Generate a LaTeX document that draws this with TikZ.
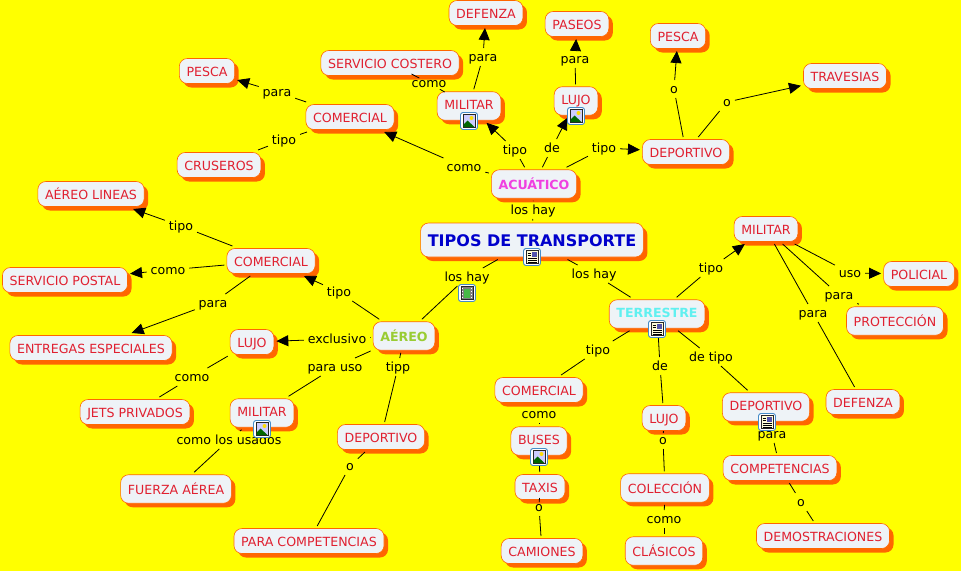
\documentclass[tikz,border=0pt]{standalone}
\usepackage{fontspec}
\setmainfont{DejaVu Sans}
\usetikzlibrary{shapes, arrows.meta, positioning, shadows}
\definecolor{mapyellow}{RGB}{255, 255, 0}
\definecolor{boxfill}{RGB}{238, 243, 247}
\definecolor{boxedge}{RGB}{255, 102, 0}
\definecolor{cptred}{RGB}{224, 32, 48}
\definecolor{acuapink}{RGB}{240, 64, 224}
\definecolor{terrcyan}{RGB}{96, 240, 240}
\definecolor{aeregreen}{RGB}{153, 204, 51}
\definecolor{rootblue}{RGB}{0, 0, 204}
\definecolor{iconblue}{RGB}{70, 140, 200}
\tikzset{
  iconframe/.pic={
    \draw[iconblue, fill=white, rounded corners=2.5pt, line width=0.9pt] (-8.5,-8.5) rectangle (8.5,8.5);
    \draw[black!85, line width=0.9pt] (-6,-6.5) rectangle (6,6.5);
  },
  imgicon/.pic={
    \pic {iconframe};
    \fill[blue!20] (-5.5,-6) rectangle (5.5,6);
    \fill[yellow!80!orange] (2.5,-3) circle (2);
    \fill[green!40!black] (-5.5,6) -- (-5.5,3.5) -- (-1.5,-0.5) -- (5.5,6) -- cycle;
  },
  docicon/.pic={
    \pic {iconframe};
    \fill[yellow!15] (-5.5,-6) rectangle (5.5,6);
    \fill[blue!35!gray] (-0.5,-5) rectangle (5,0);
    \foreach \yy in {-4,-1.5} \draw[black, line width=0.7pt] (-4.5,\yy) -- (-1.5,\yy);
    \foreach \yy in {1.2,3.2,5} \draw[black, line width=0.7pt] (-4.5,\yy) -- (4.5,\yy);
  },
  filmicon/.pic={
    \pic {iconframe};
    \fill[black!50] (-5.5,-6) rectangle (5.5,6);
    \fill[green!45!gray] (-3,-4.5) rectangle (3,4.5);
    \foreach \yy in {-4.5,-1.5,1.5,4.5} {
      \fill[white] (-5,\yy-0.7) rectangle (-3.8,\yy+0.7);
      \fill[white] (3.8,\yy-0.7) rectangle (5,\yy+0.7);
    }
  }
}
\begin{document}
\begin{tikzpicture}[
  x=1pt, y=-1pt,
  cptbox/.style={draw=boxedge, fill=boxfill, rounded corners=8pt, line width=0.6pt, minimum height=25pt, text height=10.5pt, text depth=0pt, inner xsep=7.2pt, inner ysep=2pt, outer sep=2.5pt, align=center, text=cptred, font=\fontsize{12.6}{14}\selectfont, drop shadow={shadow xshift=4pt, shadow yshift=-4pt, fill=boxedge, opacity=1}},
  tallbox/.style={cptbox, minimum height=28.5pt},
  iconbox/.style={tallbox, text height=7pt},
  linkbox/.style={inner xsep=2.5pt, inner ysep=1pt, outer sep=1.5pt, text height=10.5pt, text depth=2.5pt, text=black, font=\fontsize{12.6}{14}\selectfont},
  lnk/.style={draw=black, line width=0.8pt},
  arr/.style={lnk, -{Triangle[length=12pt,width=11pt]}}
]
  \useasboundingbox[fill=mapyellow] (0,0) rectangle (961,571);

  % Root and the three branches
  \node[tallbox, minimum height=34pt, text height=13pt, font=\fontsize{16}{18}\selectfont\bfseries, text=rootblue] (tipos) at (532,240) {TIPOS DE TRANSPORTE};
  \node[tallbox, font=\fontsize{12.6}{14}\selectfont\bfseries, text=acuapink] (acuatico) at (534,184) {ACUÁTICO};
  \node[iconbox, font=\fontsize{12.6}{14}\selectfont\bfseries, text=terrcyan] (terrestre) at (657,314) {TERRESTRE};
  \node[tallbox, font=\fontsize{12.6}{14}\selectfont\bfseries, text=aeregreen] (aereo) at (404,336) {AÉREO};

  % Water
  \node[cptbox] (defenzaAcu) at (486,13) {DEFENZA};
  \node[cptbox] (paseos) at (577,24) {PASEOS};
  \node[cptbox] (pescaDep) at (678,36) {PESCA};
  \node[cptbox] (travesias) at (845,76) {TRAVESIAS};
  \node[cptbox] (costero) at (390,63) {SERVICIO COSTERO};
  \node[iconbox] (militarAcu) at (469,106) {MILITAR};
  \node[iconbox] (lujoAcu) at (576,101) {LUJO};
  \node[cptbox] (deportivoAcu) at (686,152) {DEPORTIVO};
  \node[cptbox] (pescaCom) at (207,71) {PESCA};
  \node[cptbox] (comercialAcu) at (350,117) {COMERCIAL};
  \node[cptbox] (cruseros) at (219,165) {CRUSEROS};

  % Air
  \node[cptbox] (lineas) at (91,194) {AÉREO LINEAS};
  \node[cptbox] (comercialAer) at (271,261) {COMERCIAL};
  \node[cptbox] (postal) at (65,280) {SERVICIO POSTAL};
  \node[cptbox] (entregas) at (91,348) {ENTREGAS ESPECIALES};
  \node[cptbox] (lujoAer) at (252,342) {LUJO};
  \node[cptbox] (jets) at (135,412) {JETS PRIVADOS};
  \node[iconbox] (militarAer) at (262,413) {MILITAR};
  \node[tallbox] (fuerza) at (176,489) {FUERZA AÉREA};
  \node[cptbox] (deportivoAer) at (381,437) {DEPORTIVO};
  \node[cptbox] (paracomp) at (309,541) {PARA COMPETENCIAS};

  % Land
  \node[cptbox] (comercialTer) at (539,390) {COMERCIAL};
  \node[iconbox] (buses) at (539,441) {BUSES};
  \node[cptbox] (taxis) at (540,487) {TAXIS};
  \node[cptbox] (camiones) at (542,551) {CAMIONES};
  \node[cptbox] (lujoTer) at (664,418) {LUJO};
  \node[tallbox] (coleccion) at (665,488) {COLECCIÓN};
  \node[tallbox] (clasicos) at (664,551) {CLÁSICOS};
  \node[iconbox] (deportivoTer) at (766,407) {DEPORTIVO};
  \node[cptbox] (competencias) at (780,468) {COMPETENCIAS};
  \node[cptbox] (demostraciones) at (823,536) {DEMOSTRACIONES};
  \node[cptbox] (militarTer) at (766,229) {MILITAR};
  \node[cptbox] (policial) at (919,274) {POLICIAL};
  \node[tallbox] (proteccion) at (895,321) {PROTECCIÓN};
  \node[cptbox] (defenzaTer) at (863,402) {DEFENZA};

  % Link phrases
  \node[linkbox] (hayUp) at (533,210) {los hay};
  \node[linkbox] (hayLeft) at (467,277) {los hay};
  \node[linkbox] (hayRight) at (594,274) {los hay};
  \node[linkbox] (comoAcu) at (464,167) {como};
  \node[linkbox] (tipoMil) at (515,150) {tipo};
  \node[linkbox] (deLujo) at (552,148) {de};
  \node[linkbox] (tipoDep) at (604,148) {tipo};
  \node[linkbox] (paraDef) at (483,57) {para};
  \node[linkbox] (comoCost) at (429,83) {como};
  \node[linkbox] (paraPas) at (575,59) {para};
  \node[linkbox] (oPesca) at (674,89) {o};
  \node[linkbox] (oTrav) at (727,102) {o};
  \node[linkbox] (paraPes) at (277,92) {para};
  \node[linkbox] (tipoCru) at (284,140) {tipo};
  \node[linkbox] (tipoLin) at (181,226) {tipo};
  \node[linkbox] (comoPos) at (168,270) {como};
  \node[linkbox] (paraEnt) at (213,303) {para};
  \node[linkbox] (tipoCom) at (339,292) {tipo};
  \node[linkbox] (exclusivo) at (337,339) {exclusivo};
  \node[linkbox] (parauso) at (335,367) {para uso};
  \node[linkbox] (tipp) at (398,367) {tipp};
  \node[linkbox] (comoJets) at (192,377) {como};
  \node[linkbox] (usados) at (229,440) {como los usados};
  \node[linkbox] (oComp) at (350,466) {o};
  \node[linkbox] (tipoTer) at (598,350) {tipo};
  \node[linkbox] (deTer) at (660,366) {de};
  \node[linkbox] (detipo) at (711,357) {de tipo};
  \node[linkbox] (tipoMilT) at (711,268) {tipo};
  \node[linkbox] (comoBus) at (539,414) {como};
  \node[linkbox] (oCol) at (663,440) {o};
  \node[linkbox] (comoCla) at (664,519) {como};
  \node[linkbox] (paraCom) at (772,434) {para};
  \node[linkbox] (oDem) at (801,502) {o};
  \node[linkbox] (oCam) at (539,507) {o};
  \node[linkbox] (uso) at (850,273) {uso};
  \node[linkbox] (paraPro) at (839,295) {para};
  \node[linkbox] (paraDefT) at (813,313) {para};

  % Connectors
  \draw[lnk] (tipos) -- (hayUp);
  \draw[lnk] (hayUp) -- (acuatico);
  \draw[lnk] (tipos) -- (hayLeft);
  \draw[lnk] (hayLeft) -- (aereo);
  \draw[lnk] (tipos) -- (hayRight);
  \draw[lnk] (hayRight) -- (terrestre);

  \draw[lnk] (acuatico) -- (comoAcu);
  \draw[arr] (comoAcu) -- (comercialAcu);
  \draw[lnk] (acuatico) -- (tipoMil);
  \draw[arr] (tipoMil) -- (militarAcu);
  \draw[lnk] (acuatico) -- (deLujo);
  \draw[arr] (deLujo) -- (lujoAcu);
  \draw[lnk] (acuatico) -- (tipoDep);
  \draw[arr] (tipoDep) -- (deportivoAcu);
  \draw[lnk] (militarAcu) -- (paraDef);
  \draw[arr] (paraDef) -- (defenzaAcu);
  \draw[lnk] (militarAcu) -- (comoCost);
  \draw[lnk] (comoCost) -- (costero);
  \draw[lnk] (lujoAcu) -- (paraPas);
  \draw[arr] (paraPas) -- (paseos);
  \draw[lnk] (deportivoAcu) -- (oPesca);
  \draw[arr] (oPesca) -- (pescaDep);
  \draw[lnk] (deportivoAcu) -- (oTrav);
  \draw[arr] (oTrav) -- (travesias);
  \draw[lnk] (comercialAcu) -- (paraPes);
  \draw[arr] (paraPes) -- (pescaCom);
  \draw[lnk] (comercialAcu) -- (tipoCru);
  \draw[lnk] (tipoCru) -- (cruseros);

  \draw[lnk] (aereo) -- (tipoCom);
  \draw[arr] (tipoCom) -- (comercialAer);
  \draw[lnk] (aereo) -- (exclusivo);
  \draw[arr] (exclusivo) -- (lujoAer);
  \draw[lnk] (aereo) -- (parauso);
  \draw[lnk] (parauso) -- (militarAer);
  \draw[lnk] (aereo) -- (tipp);
  \draw[lnk] (tipp) -- (deportivoAer);
  \draw[lnk] (comercialAer) -- (tipoLin);
  \draw[arr] (tipoLin) -- (lineas);
  \draw[lnk] (comercialAer) -- (comoPos);
  \draw[arr] (comoPos) -- (postal);
  \draw[lnk] (comercialAer) -- (paraEnt);
  \draw[arr] (paraEnt) -- (entregas);
  \draw[lnk] (lujoAer) -- (comoJets);
  \draw[lnk] (comoJets) -- (jets);
  \draw[lnk] (militarAer) -- (usados);
  \draw[lnk] (usados) -- (fuerza);
  \draw[lnk] (deportivoAer) -- (oComp);
  \draw[lnk] (oComp) -- (paracomp);

  \draw[lnk] (terrestre) -- (tipoTer);
  \draw[lnk] (tipoTer) -- (comercialTer);
  \draw[lnk] (terrestre) -- (deTer);
  \draw[lnk] (deTer) -- (lujoTer);
  \draw[lnk] (terrestre) -- (detipo);
  \draw[lnk] (detipo) -- (deportivoTer);
  \draw[lnk] (terrestre) -- (tipoMilT);
  \draw[arr] (tipoMilT) -- (militarTer);
  \draw[lnk] (comercialTer) -- (comoBus);
  \draw[lnk] (comoBus) -- (buses);
  \draw[lnk] (buses) -- (taxis);
  \draw[lnk] (taxis) -- (oCam);
  \draw[lnk] (oCam) -- (camiones);
  \draw[lnk] (lujoTer) -- (oCol);
  \draw[lnk] (oCol) -- (coleccion);
  \draw[lnk] (coleccion) -- (comoCla);
  \draw[lnk] (comoCla) -- (clasicos);
  \draw[lnk] (deportivoTer) -- (paraCom);
  \draw[lnk] (paraCom) -- (competencias);
  \draw[lnk] (competencias) -- (oDem);
  \draw[lnk] (oDem) -- (demostraciones);
  \draw[lnk] (militarTer) -- (uso);
  \draw[arr] (uso) -- (policial);
  \draw[lnk] (militarTer) -- (paraPro);
  \draw[lnk] (paraPro) -- (proteccion);
  \draw[lnk] (militarTer) -- (paraDefT);
  \draw[lnk] (paraDefT) -- (defenzaTer);

  % Resource icons
  \pic at (532,257) {docicon};
  \pic at (657,329) {docicon};
  \pic at (767,422) {docicon};
  \pic at (467,293) {filmicon};
  \pic at (469,121) {imgicon};
  \pic at (576,116) {imgicon};
  \pic at (262,429) {imgicon};
  \pic at (539,457) {imgicon};
\end{tikzpicture}
\end{document}
